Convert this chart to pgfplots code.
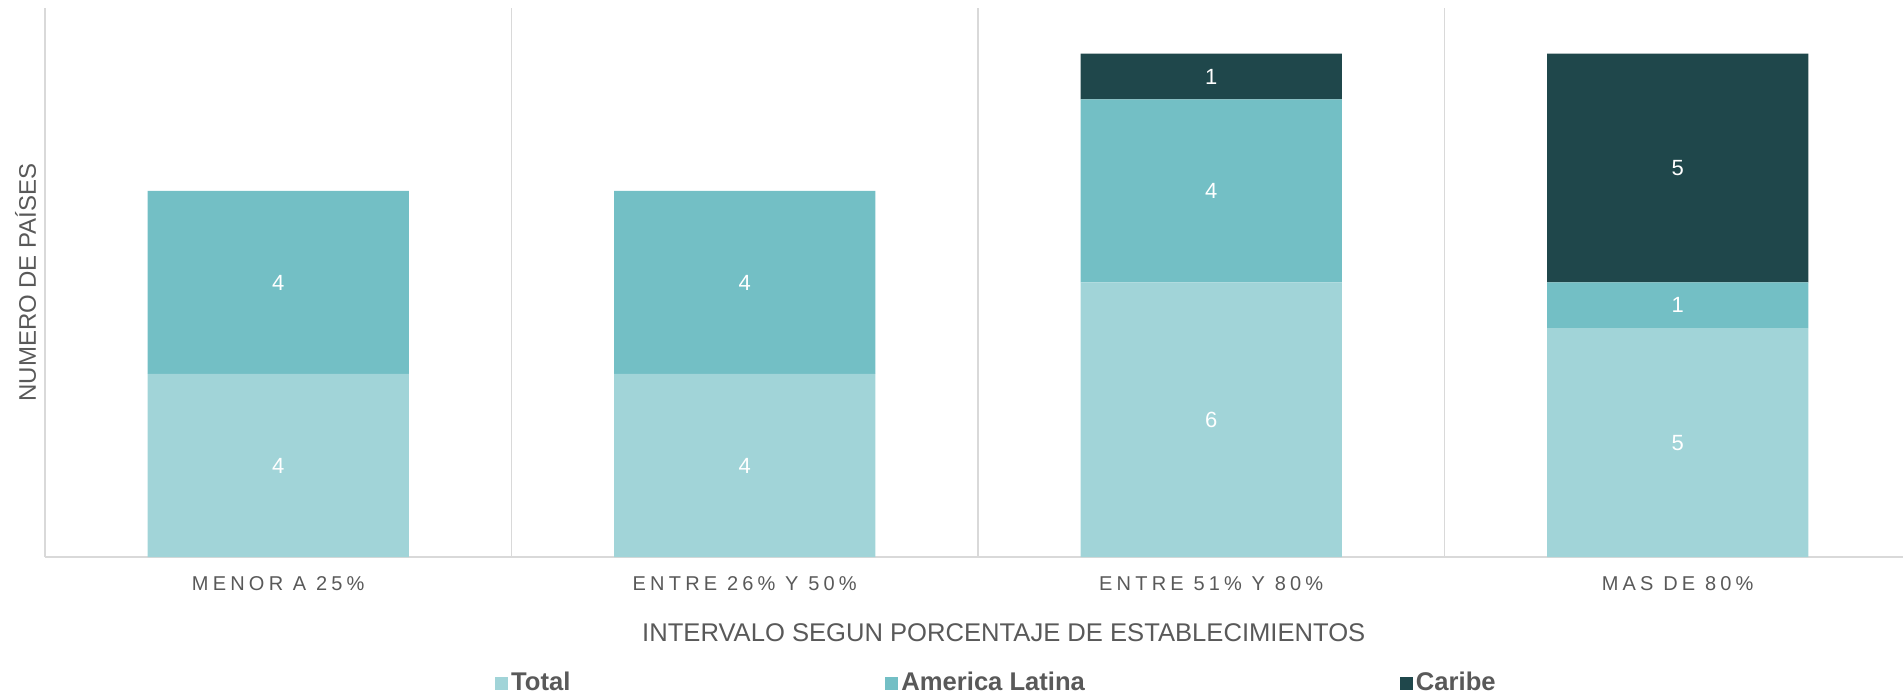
\documentclass[border=0pt]{standalone}
\usepackage{pgfplots}
\usepackage{pgfplotstable}
\pgfplotsset{compat=1.18}
\usepackage{fontspec}
\setmainfont{Liberation Sans}
\newfontfamily\spaced[LetterSpace=21]{Liberation Sans}
\definecolor{cTotal}{HTML}{A1D4D8}
\definecolor{cAL}{HTML}{73BFC5}
\definecolor{cCar}{HTML}{1F474B}
\definecolor{txt}{HTML}{595959}
\definecolor{grd}{HTML}{D9D9D9}
\pgfplotstableread{
x total al car
0 4 4 0
1 4 4 0
2 6 4 1
3 5 1 5
}\datatable
\begin{document}
\begin{tikzpicture}
\useasboundingbox (0,0) rectangle (951.5pt,348.5pt);
\begin{axis}[
  at={(22.5pt,70pt)}, anchor=south west,
  scale only axis, width=929pt, height=274.5pt,
  xmin=-0.5, xmax=3.483, ymin=0, ymax=12,
  ybar stacked, bar width=0.56,
  axis x line*=bottom, axis y line*=left,
  axis line style={grd, line width=0.9pt},
  ytick=\empty,
  xtick={0,1,2,3},
  xticklabels={MENOR A 25\%, ENTRE 26\% Y 50\%, ENTRE 51\% Y 80\%, MAS DE 80\%},
  major tick length=0pt,
  xticklabel style={font=\spaced\fontsize{10}{12}\selectfont, text=txt, anchor=center, yshift=-13.5pt},
  extra x ticks={0.5,1.5,2.5},
  extra x tick labels={},
  extra x tick style={grid=major, major grid style={grd, line width=0.9pt}},
  xlabel={INTERVALO SEGUN PORCENTAJE DE ESTABLECIMIENTOS},
  every axis x label/.style={at={(axis description cs:0.516,0)}, anchor=center, yshift=-38pt, font=\fontsize{12.8}{14}\selectfont, text=txt},
  ylabel={NUMERO DE PAÍSES},
  every axis y label/.style={at={(axis description cs:-0.0105,0.5)}, rotate=90, anchor=center, font=\fontsize{12}{14}\selectfont, text=txt},
  legend columns=3,
  legend style={at={(axis description cs:0.2421,-0.2295)}, anchor=west, draw=none, fill=none, inner sep=0pt, font=\bfseries\fontsize{12.8}{14}\selectfont, text=txt, /tikz/every even column/.append style={column sep=156pt}, nodes={inner sep=1.5pt}},
  legend image code/.code={\fill[#1] (0pt,-3.25pt) rectangle (6.5pt,3.25pt);},
  point meta=explicit symbolic,
  nodes near coords={\ifdim\pgfplotspointmeta pt=0pt\else\pgfplotspointmeta\fi},
  nodes near coords align=center,
  every node near coord/.append style={font=\fontsize{11}{12}\selectfont, text=white, anchor=center},
]
\addplot[fill=cTotal, draw=none] table[x=x, y=total, meta=total] {\datatable};
\addlegendentry{Total}
\addplot[fill=cAL, draw=none] table[x=x, y=al, meta=al] {\datatable};
\addlegendentry{America Latina}
\addplot[fill=cCar, draw=none] table[x=x, y=car, meta=car] {\datatable};
\addlegendentry{Caribe}
\end{axis}
\end{tikzpicture}
\end{document}
